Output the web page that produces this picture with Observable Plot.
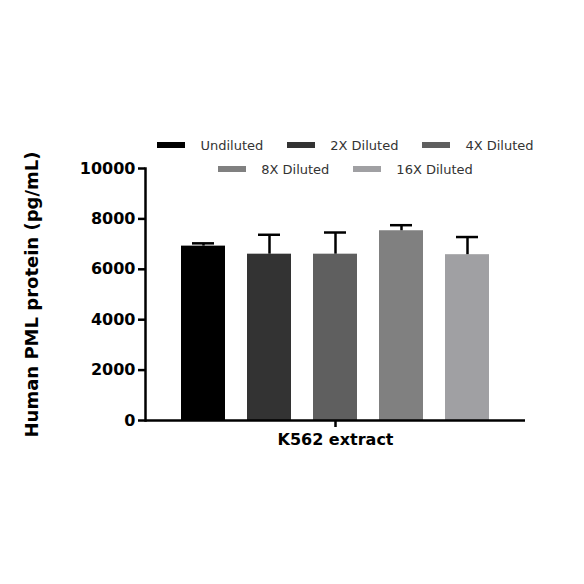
<!DOCTYPE html>
<html>
<head>
<meta charset="utf-8">
<script src="https://cdn.jsdelivr.net/npm/d3@7"></script>
<script src="https://cdn.jsdelivr.net/npm/@observablehq/plot@0.6"></script>
<style>
  body { margin: 0; background: #fff; }
  #wrap { position: relative; width: 584px; height: 584px; overflow: hidden; }
  #chart { position: absolute; left: 0; top: 0; }
  #legend { position: absolute; left: 0; top: 133px; width: 691px; font-family: "DejaVu Sans", sans-serif; font-size: 13px; color: #333; }
  .row { display: flex; justify-content: center; height: 24px; align-items: center; }
  .item { display: flex; align-items: center; margin: 0 12px; }
  .sw { width: 28px; height: 6px; margin-right: 15px; }
</style>
</head>
<body>
<div id="wrap">
  <div id="chart"></div>
  <div id="legend"></div>
</div>
<script>
const group = "K562 extract";
const dilutions = ["Undiluted", "2X Diluted", "4X Diluted", "8X Diluted", "16X Diluted"];
const means = [6920, 6600, 6600, 7530, 6580];
const errors = [110, 770, 860, 220, 700];
const colors = ["#000000", "#333333", "#5f5f5f", "#808080", "#a0a0a3"];
const yTicks = [0, 2000, 4000, 6000, 8000, 10000];
const legendRows = [[0, 1, 2], [3, 4]];

const data = dilutions.map((d, i) => ({group, dilution: d, mean: means[i], top: means[i] + errors[i]}));

const chart = Plot.plot({
  width: 584,
  height: 584,
  marginLeft: 145,
  marginRight: 59,
  marginTop: 168,
  marginBottom: 164,
  style: {fontFamily: "DejaVu Sans, sans-serif", background: "transparent"},
  fx: {domain: [group], padding: 0},
  x: {domain: dilutions, paddingInner: 0.34, paddingOuter: 0.51, axis: null},
  y: {domain: [0, 10000]},
  color: {domain: dilutions, range: colors},
  marks: [
    Plot.barY(data, {fx: "group", x: "dilution", y: "mean", fill: "dilution"}),
    Plot.ruleX(data, {fx: "group", x: "dilution", y1: "mean", y2: "top", stroke: "#000", strokeWidth: 2.5}),
    Plot.tickY(data, {fx: "group", x: "dilution", y: "top", stroke: "#000", strokeWidth: 2.5, inset: 11}),
    Plot.ruleY([0], {stroke: "#000", strokeWidth: 2.5}),
    Plot.frame({anchor: "left", stroke: "#000", strokeWidth: 2.5}),
    Plot.axisY({ticks: yTicks, tickFormat: d => String(d), tickSize: 7, tickPadding: 3, strokeWidth: 2.5,
      fontSize: 16, fontWeight: "bold", fill: "#000",
      label: "Human PML protein (pg/mL)", labelAnchor: "center", labelArrow: false, labelOffset: 120}),
    Plot.axisFx({anchor: "bottom", tickSize: 7, strokeWidth: 2.5, tickPadding: 6, fontSize: 16, fontWeight: "bold", fill: "#000", label: null})
  ]
});
chart.querySelectorAll("g[aria-label='y-axis label'] text").forEach(t => {
  t.setAttribute("font-size", "18");
  t.setAttribute("font-weight", "bold");
  t.setAttribute("fill", "#000");
});
document.getElementById("chart").appendChild(chart);

const legend = document.getElementById("legend");
legendRows.forEach(row => {
  const r = document.createElement("div");
  r.className = "row";
  row.forEach(i => {
    const it = document.createElement("div");
    it.className = "item";
    const sw = document.createElement("div");
    sw.className = "sw";
    sw.style.background = colors[i];
    const tx = document.createElement("span");
    tx.textContent = dilutions[i];
    it.appendChild(sw); it.appendChild(tx);
    r.appendChild(it);
  });
  legend.appendChild(r);
});
</script>
</body>
</html>
